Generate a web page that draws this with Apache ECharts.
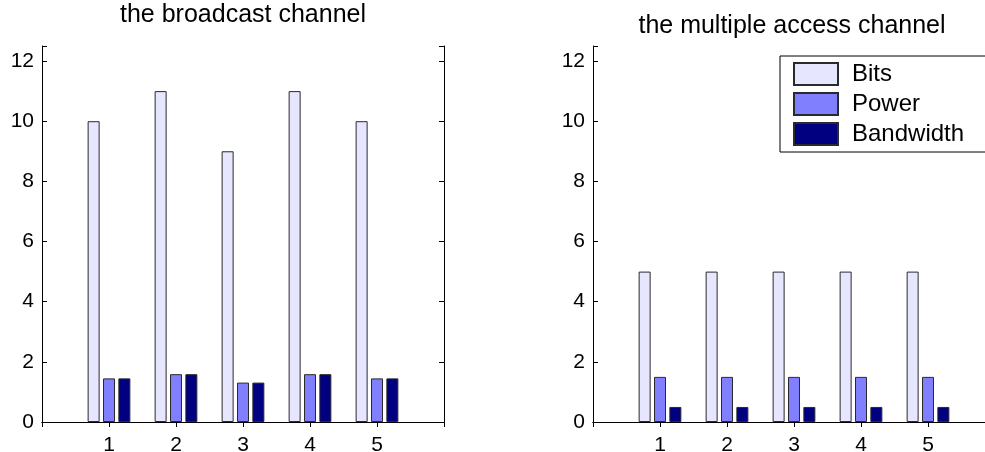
<!DOCTYPE html>
<html>
<head>
<meta charset="utf-8">
<script src="https://cdn.jsdelivr.net/npm/echarts@6/dist/echarts.min.js"></script>
<style>
html,body{margin:0;padding:0;background:#fff;}
#chart{width:985px;height:452px;}
</style>
</head>
<body>
<div id="chart"></div>
<script>
// ---- data ----
const categories = ['1', '2', '3', '4', '5'];
const seriesNames = ['Bits', 'Power', 'Bandwidth'];
const bcBits = [10, 11, 9, 11, 10];
const bcPower = [1.45, 1.59, 1.31, 1.59, 1.45];
const bcBandwidth = [1.45, 1.59, 1.31, 1.59, 1.45];
const macBits = [5, 5, 5, 5, 5];
const macPower = [1.5, 1.5, 1.5, 1.5, 1.5];
const macBandwidth = [0.5, 0.5, 0.5, 0.5, 0.5];
const titles = ['the broadcast channel', 'the multiple access channel'];
const yTicks = [0, 2, 4, 6, 8, 10, 12];

// ---- styling ----
const colors = ['#E6E6FF', '#8080FF', '#000080'];
const FONT = '"Liberation Sans", Arial, Helvetica, sans-serif';
const axisCats = [''].concat(categories, ['']);
const pad = arr => [null].concat(arr, [null]);

const grids = [
  {left: 42, top: 46, width: 402, height: 376, outerBoundsMode: 'none', containLabel: false},
  {left: 593, top: 46, width: 402, height: 376, outerBoundsMode: 'none', containLabel: false}
];

const xAxes = [], yAxes = [];
grids.forEach((g, gi) => {
  xAxes.push({
    type: 'category', gridIndex: gi, data: axisCats, boundaryGap: false, position: 'bottom',
    axisLine: {lineStyle: {color: '#000', width: 1}},
    axisTick: {inside: true, length: 5, lineStyle: {color: '#000'}},
    axisLabel: {color: '#000', fontSize: 21, fontFamily: FONT, margin: 13},
    splitLine: {show: false}
  });
  xAxes.push({
    type: 'category', gridIndex: gi, data: axisCats, boundaryGap: false, position: 'top',
    axisLine: {lineStyle: {color: '#000', width: 1}},
    axisTick: {inside: true, length: 5, lineStyle: {color: '#000'}},
    axisLabel: {show: false}, splitLine: {show: false}
  });
  yAxes.push({
    type: 'value', gridIndex: gi, min: 0, max: 12.5, interval: 2, position: 'left',
    axisLine: {show: true, lineStyle: {color: '#000', width: 1}},
    axisTick: {show: true, inside: true, length: 5, lineStyle: {color: '#000'}},
    axisLabel: {color: '#000', fontSize: 21, fontFamily: FONT, margin: 8,
      formatter: v => (yTicks.indexOf(v) >= 0 ? String(v) : '')},
    splitLine: {show: false}
  });
  yAxes.push({
    type: 'value', gridIndex: gi, min: 0, max: 12.5, interval: 2, position: 'right',
    axisLine: {show: true, lineStyle: {color: '#000', width: 1}},
    axisTick: {show: true, inside: true, length: 5, lineStyle: {color: '#000'}},
    axisLabel: {show: false}, splitLine: {show: false}
  });
});

function barSeries(name, data, gi, ci) {
  return {
    name: name, type: 'bar', xAxisIndex: gi * 2, yAxisIndex: gi * 2,
    data: pad(data), barWidth: 12, barGap: '28%',
    itemStyle: {color: colors[ci], borderColor: '#2a2a2a', borderWidth: 1},
    emphasis: {disabled: true}, animation: false
  };
}

const series = [
  barSeries(seriesNames[0], bcBits, 0, 0),
  barSeries(seriesNames[1], bcPower, 0, 1),
  barSeries(seriesNames[2], bcBandwidth, 0, 2),
  barSeries(seriesNames[0], macBits, 1, 0),
  barSeries(seriesNames[1], macPower, 1, 1),
  barSeries(seriesNames[2], macBandwidth, 1, 2)
];

const chart = echarts.init(document.getElementById('chart'), null, {renderer: 'canvas'});
chart.setOption({
  animation: false,
  backgroundColor: '#fff',
  title: [
    {text: titles[0], left: 243, top: 3, textAlign: 'center', padding: 0,
     textStyle: {fontSize: 25, fontWeight: 'normal', color: '#000', fontFamily: FONT}},
    {text: titles[1], left: 792, top: 14, textAlign: 'center', padding: 0,
     textStyle: {fontSize: 25, fontWeight: 'normal', color: '#000', fontFamily: FONT}}
  ],
  legend: {
    data: seriesNames, orient: 'vertical', left: 780, top: 56,
    padding: [6, 60, 6, 13], itemWidth: 44, itemHeight: 22, itemGap: 6,
    backgroundColor: '#fff', borderColor: '#000', borderWidth: 1, borderRadius: 0,
    icon: 'rect',
    textStyle: {fontSize: 24, color: '#000', fontFamily: FONT, padding: [0, 0, 0, 9]},
    selectedMode: false
  },
  grid: grids,
  xAxis: xAxes,
  yAxis: yAxes,
  series: series
});
</script>
</body>
</html>
